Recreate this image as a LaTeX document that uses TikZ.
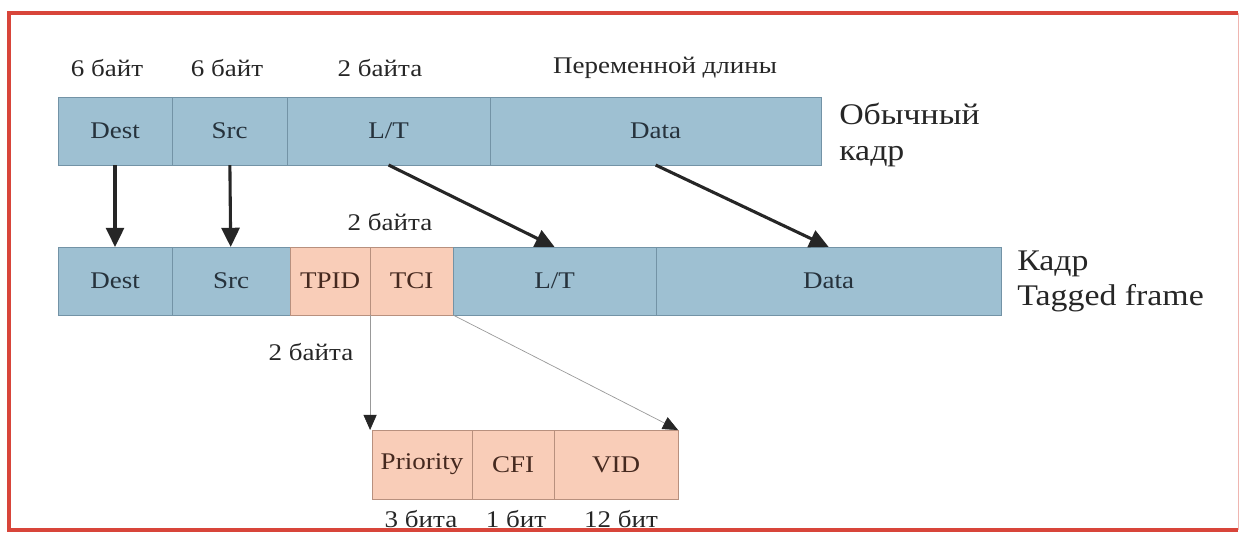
\documentclass[tikz,border=0pt]{standalone}
\usepackage{fontspec}
\setmainfont{Liberation Serif}[FakeStretch=1.13]
\usepackage{tikz}
\usetikzlibrary{shapes,arrows.meta,positioning}
\definecolor{cellblue}{HTML}{9EC0D2}
\definecolor{lineblue}{HTML}{7393A6}
\definecolor{cellpink}{HTML}{F9CDB8}
\definecolor{linepink}{HTML}{B8907E}
\definecolor{framered}{HTML}{D8453A}
\definecolor{celltext}{HTML}{26323C}
\definecolor{pinktext}{HTML}{45291F}
\tikzstyle{bluecell} = [rectangle, fill=cellblue, draw=lineblue, line width=0.4pt, minimum height=1.7cm, inner sep=0pt, outer sep=0pt, text centered, text=celltext, font=\fontsize{17}{20}\selectfont]
\tikzstyle{pinkcell} = [bluecell, fill=cellpink, draw=linepink, text=pinktext]
\tikzstyle{bytes} = [font=\fontsize{17}{20}\selectfont, text=black!85, inner sep=0pt]
\tikzstyle{framename} = [font=\fontsize{21.3}{25}\selectfont, align=left, anchor=west, text=black!85, inner sep=0pt]
\tikzstyle{arrow} = [line width=2.2pt, draw=black!85, -{Triangle[length=0.48cm,width=0.45cm]}]
\tikzstyle{thinarrow} = [line width=0.5pt, draw=black!40, -{Triangle[length=0.38cm,width=0.33cm,color=black!85]}]

\begin{document}
\begin{tikzpicture}[x=0.025cm, y=-0.025cm, node distance=0pt]
        \useasboundingbox (0,0) rectangle (1242,535);
        % frame
        \draw [framered, line width=0.1cm] (1238,13) -- (9,13) -- (9,530) -- (1238,530);
        \draw [framered!40, line width=0.5pt] (1238,13) -- (1238,530);

        % ordinary frame
        \node (dest1) [bluecell, minimum width=2.85cm, anchor=west] at (58,131) {Dest};
        \node (src1) [bluecell, minimum width=2.875cm, right=of dest1] {Src};
        \node (lt1) [bluecell, minimum width=5.075cm, right=of src1] {L/T};
        \node (data1) [bluecell, minimum width=8.275cm, right=of lt1] {Data};
        \node (name1) [framename] at (839,135) {Обычный\\кадр};

        \node (b1) [bytes] at (107,68) {6 байт};
        \node (b2) [bytes] at (227,68) {6 байт};
        \node (b3) [bytes] at (380,68) {2 байта};
        \node (b4) [bytes] at (665,68) {Переменной длины};

        % tagged frame
        \node (dest2) [bluecell, minimum width=2.85cm, anchor=west] at (58,281) {Dest};
        \node (src2) [bluecell, minimum width=2.95cm, right=of dest2] {Src};
        \node (tpid) [pinkcell, minimum width=2.0cm, right=of src2] {TPID};
        \node (tci) [pinkcell, minimum width=2.075cm, right=of tpid] {TCI};
        \node (lt2) [bluecell, minimum width=5.075cm, right=of tci] {L/T};
        \node (data2) [bluecell, minimum width=8.625cm, right=of lt2] {Data};
        \node (name2) [framename] at (1017,281) {Кадр\\Tagged frame};

        \node (b5) [bytes] at (390,222) {2 байта};
        \node (b6) [bytes] at (311,352) {2 байта};

        % tag control information
        \node (prio) [pinkcell, minimum width=2.5cm, minimum height=1.725cm, anchor=west] at (372,464.5) {Priority};
        \node (cfi) [pinkcell, minimum width=2.05cm, minimum height=1.725cm, right=of prio] {CFI};
        \node (vid) [pinkcell, minimum width=3.1cm, minimum height=1.725cm, right=of cfi] {VID};

        \node (bit1) [bytes] at (421,519) {3 бита};
        \node (bit2) [bytes] at (516,519) {1 бит};
        \node (bit3) [bytes] at (621,519) {12 бит};

        \draw [arrow] (dest1) -- (dest2);
        \draw [arrow] (src1) -- (src2);
        \draw [arrow] (lt1.south) -- (lt2.north);
        \draw [arrow] (data1.south) -- (data2.north);
        \draw [thinarrow] (tci.south west) -- (tci.south west |- prio.north);
        \draw [thinarrow] (tci.south east) -- (vid.north east);
    \end{tikzpicture}
\end{document}
